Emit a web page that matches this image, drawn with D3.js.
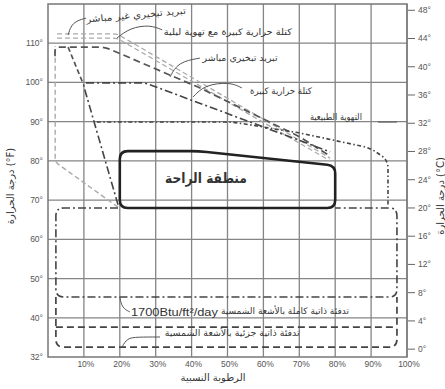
<!DOCTYPE html>
<html>
<head>
<meta charset="utf-8">
<script src="https://cdn.jsdelivr.net/npm/d3@7"></script>
<style>
  html, body { margin: 0; padding: 0; background: #fff; }
  svg { display: block; }
  .ar { font-family: "DejaVu Sans", sans-serif; fill: #333; }
  .tick-label { font-family: "Liberation Sans", Arial, sans-serif; font-size: 8.5px; fill: #555; }
</style>
</head>
<body>
<div id="chart"></div>
<script>
// ---- data: x = relative humidity (%), y = dry bulb temperature (°F) ----
const rhTicks = [10, 20, 30, 40, 50, 60, 70, 80, 90, 100];
const fGrid = [40, 50, 60, 70, 80, 90, 100, 110];
const fTickLabels = [[30, '32°'], [40, '40°'], [50, '50°'], [60, '60°'], [70, '70°'], [80, '80°'], [90, '90°'], [100, '100°'], [110, '110°']];
const cTicks = [0, 4, 8, 12, 16, 20, 24, 28, 32, 36, 40, 44, 48];

const comfortZone = [[20, 68], [20, 82.5], [42, 82.5], [80, 78.8], [80, 68]];
const indirectEvapA = [[2.5, 112.4], [19.2, 112.4], [78.6, 80.7]];
const indirectEvapB = [[2.5, 111.3], [19.2, 111.3], [78.6, 80.0]];
const directEvap = [[19.5, 68.2], [2, 79.7], [2, 109.3]];
const nightVent = [[1.95, 106.7], [1.95, 109.0], [15.9, 109.0], [42.3, 98.6], [70.2, 86.1], [78.6, 81.2]];
const nightVentLeft = [[5.6, 109.0], [9.7, 99.9]];
const thermalMass = [[19.5, 68.8], [9.7, 99.9], [27.0, 99.9], [78.6, 82.3]];
const naturalVent = [[13.6, 89.9], [51.5, 89.9], [70.2, 87.1], [89.7, 83.3], [94.7, 80.2], [94.7, 68.8]];
const solarFull = [[19.5, 68], [2.2, 68], [2.2, 45.3], [97.2, 45.3], [97.2, 68], [80, 68]];
const solarPartial = [[2.2, 45.3], [2.2, 32.5], [97.2, 32.5], [97.2, 45.3]];
const solarMid = [[2.2, 37.6], [97.2, 37.6]];

const leaders = [
  [[5.6, 112.1], [6.7, 115.4], [10.6, 116.4]],
  [[19.2, 111.3], [22.8, 113.9], [28.4, 114.7], [31.8, 113.4]],
  [[34, 101.4], [36.2, 105.2], [42.3, 106.2]],
  [[40.4, 96.3], [43.7, 99.4], [50.7, 100.1], [54, 98.6]],
  [[91.9, 89.9], [97.2, 89.9]],
  [[20, 45.3], [20.6, 42.5], [22.8, 41.5]],
  [[20.6, 32.5], [22, 34.8], [24.8, 35.1], [31.2, 35.1]]
];

// label, anchor (rh, °F), target width in px, rotation
const labels = [
  ['تبريد تبخيري غير مباشر', [24.5, 117.2], 100, -5],
  ['كتلة حرارية كبيرة مع تهوية ليلية', [50.1, 112.9], 128, 0],
  ['تبريد تبخيري مباشر', [53.5, 106.2], 75, 0],
  ['كتلة حرارية كبيرة', [64.9, 97.8], 62, 0],
  ['التهوية الطبيعية', [80.2, 91.2], 52, 0],
  ['تدفئة ذاتية كاملة بالأشعة الشمسية', [66, 41.7], 128, 0],
  ['تدفئة ذاتية جزئية بالأشعة الشمسية', [51.3, 36.1], 135, 0]
];

const width = 445, height = 389;
const plot = { left: 48, right: 407, top: 4, bottom: 357 };

const svg = d3.select('#chart').append('svg')
  .attr('width', width)
  .attr('height', height);

const x = d3.scaleLinear().domain([0, 100]).range([plot.left, plot.right]);
const y = d3.scaleLinear().domain([30, 120]).range([plot.bottom, plot.top]);
const cToF = c => c * 1.8 + 32;

// grid
const grid = svg.append('g');
grid.selectAll('.vg').data(rhTicks).enter().append('line')
  .attr('x1', d => x(d)).attr('x2', d => x(d))
  .attr('y1', plot.top).attr('y2', plot.bottom)
  .attr('stroke', '#858585').attr('stroke-width', 1.3);
grid.selectAll('.hg').data(fGrid).enter().append('line')
  .attr('x1', plot.left).attr('x2', plot.right)
  .attr('y1', d => y(d)).attr('y2', d => y(d))
  .attr('stroke', '#858585').attr('stroke-width', 1.3);
grid.append('rect')
  .attr('x', plot.left).attr('y', plot.top)
  .attr('width', plot.right - plot.left).attr('height', plot.bottom - plot.top)
  .attr('fill', 'none').attr('stroke', '#777').attr('stroke-width', 1.5);

// left axis labels (°F)
svg.append('g').selectAll('text').data(fTickLabels).enter().append('text')
  .attr('class', 'tick-label')
  .attr('x', plot.left - 5)
  .attr('y', d => y(d[0]))
  .attr('dy', '0.35em')
  .attr('text-anchor', 'end')
  .text(d => d[1]);

// right axis (°C)
const rAxis = svg.append('g');
rAxis.selectAll('line').data(cTicks).enter().append('line')
  .attr('x1', plot.right + 1).attr('x2', plot.right + 8)
  .attr('y1', d => y(cToF(d))).attr('y2', d => y(cToF(d)))
  .attr('stroke', '#666').attr('stroke-width', 1);
rAxis.selectAll('text').data(cTicks).enter().append('text')
  .attr('class', 'tick-label')
  .attr('x', plot.right + 11)
  .attr('y', d => y(cToF(d)))
  .attr('dy', '0.35em')
  .text(d => d + '°');

// bottom axis labels
svg.append('g').selectAll('text').data(rhTicks).enter().append('text')
  .attr('class', 'tick-label')
  .attr('x', d => x(d) + 2)
  .attr('y', plot.bottom + 10)
  .attr('text-anchor', 'middle')
  .text(d => d + '%');

// axis titles
svg.append('text').attr('class', 'ar')
  .attr('transform', `translate(14, 186) rotate(-90)`)
  .attr('text-anchor', 'middle')
  .attr('font-size', 10)
  .text('درجة الحرارة (°F)');
svg.append('text').attr('class', 'ar')
  .attr('transform', `translate(444, 196) rotate(-90)`)
  .attr('text-anchor', 'middle')
  .attr('font-size', 10)
  .text('درجة الحرارة (°C)');
svg.append('text').attr('class', 'ar')
  .attr('x', 213).attr('y', 381)
  .attr('text-anchor', 'middle')
  .attr('font-size', 10)
  .text('الرطوبة النسبية');

// path helpers
function toPx(pts) { return pts.map(p => [x(p[0]), y(p[1])]); }

function roundedPath(pts, r, closed) {
  const n = pts.length;
  const cornerAt = (prev, cur, next) => {
    const l1 = Math.hypot(cur[0] - prev[0], cur[1] - prev[1]);
    const l2 = Math.hypot(next[0] - cur[0], next[1] - cur[1]);
    const rr = Math.min(r, l1 / 2, l2 / 2);
    const a = [cur[0] - (cur[0] - prev[0]) / l1 * rr, cur[1] - (cur[1] - prev[1]) / l1 * rr];
    const b = [cur[0] + (next[0] - cur[0]) / l2 * rr, cur[1] + (next[1] - cur[1]) / l2 * rr];
    return `L${a[0]},${a[1]}Q${cur[0]},${cur[1]} ${b[0]},${b[1]}`;
  };
  let d;
  if (closed) {
    const s = [(pts[n - 1][0] + pts[0][0]) / 2, (pts[n - 1][1] + pts[0][1]) / 2];
    d = `M${s[0]},${s[1]}`;
    for (let i = 0; i < n; i++) d += cornerAt(pts[(i - 1 + n) % n], pts[i], pts[(i + 1) % n]);
    d += 'Z';
  } else {
    d = `M${pts[0][0]},${pts[0][1]}`;
    for (let i = 1; i < n - 1; i++) d += cornerAt(pts[i - 1], pts[i], pts[i + 1]);
    d += `L${pts[n - 1][0]},${pts[n - 1][1]}`;
  }
  return d;
}

const lines = svg.append('g').attr('fill', 'none').attr('stroke-linecap', 'butt');

function drawLine(pts, opts) {
  lines.append('path')
    .attr('d', roundedPath(toPx(pts), opts.r || 0, opts.closed))
    .attr('stroke', opts.color)
    .attr('stroke-width', opts.w)
    .attr('stroke-dasharray', opts.dash || null);
}

const dashLong = '7,4';
const dashDot = '8,3,2,3';
const dashDotDot = '4,2.5,1.5,2.5';

drawLine(indirectEvapA, { color: '#aaa', w: 1.3, dash: '5,3', r: 4 });
drawLine(indirectEvapB, { color: '#aaa', w: 1.3, dash: '5,3', r: 4 });
drawLine(directEvap, { color: '#aaa', w: 1.4, dash: '5,3', r: 4 });
drawLine(nightVent, { color: '#555', w: 1.7, dash: dashLong, r: 6 });
drawLine(nightVentLeft, { color: '#555', w: 1.7, dash: '5,3' });
drawLine(thermalMass, { color: '#444', w: 1.6, dash: dashDot, r: 4 });
drawLine(naturalVent, { color: '#444', w: 1.6, dash: dashDotDot, r: 8 });
drawLine(solarFull, { color: '#444', w: 1.6, dash: dashDot, r: 8 });
drawLine(solarPartial, { color: '#444', w: 1.7, dash: dashLong, r: 8 });
drawLine(solarMid, { color: '#444', w: 1.7, dash: dashLong });

// comfort zone
drawLine(comfortZone, { color: '#222', w: 2.6, r: 8, closed: true });

// leaders
const leaderLine = d3.line().x(d => x(d[0])).y(d => y(d[1])).curve(d3.curveBasis);
svg.append('g').selectAll('path').data(leaders).enter().append('path')
  .attr('d', leaderLine)
  .attr('fill', 'none')
  .attr('stroke', '#555')
  .attr('stroke-width', 1);

// zone labels
svg.append('g').selectAll('text').data(labels).enter().append('text')
  .attr('class', 'ar')
  .attr('font-size', 9)
  .attr('text-anchor', 'middle')
  .attr('dy', '0.35em')
  .attr('transform', d => `translate(${x(d[1][0])},${y(d[1][1])}) rotate(${d[3]})`)
  .attr('textLength', d => d[2])
  .attr('lengthAdjust', 'spacingAndGlyphs')
  .text(d => d[0]);

svg.append('text').attr('class', 'ar')
  .attr('x', x(44)).attr('y', y(75.6))
  .attr('dy', '0.35em')
  .attr('text-anchor', 'middle')
  .attr('font-size', 14)
  .attr('font-weight', 'bold')
  .attr('fill', '#222')
  .attr('textLength', 82)
  .attr('lengthAdjust', 'spacingAndGlyphs')
  .text('منطقة الراحة');

svg.append('text')
  .attr('x', x(23.1)).attr('y', y(41.5))
  .attr('dy', '0.35em')
  .attr('font-family', '"Liberation Sans", Arial, sans-serif')
  .attr('font-size', 11)
  .attr('fill', '#333')
  .attr('textLength', 87)
  .attr('lengthAdjust', 'spacingAndGlyphs')
  .text('1700Btu/ft²/day');
</script>
</body>
</html>
